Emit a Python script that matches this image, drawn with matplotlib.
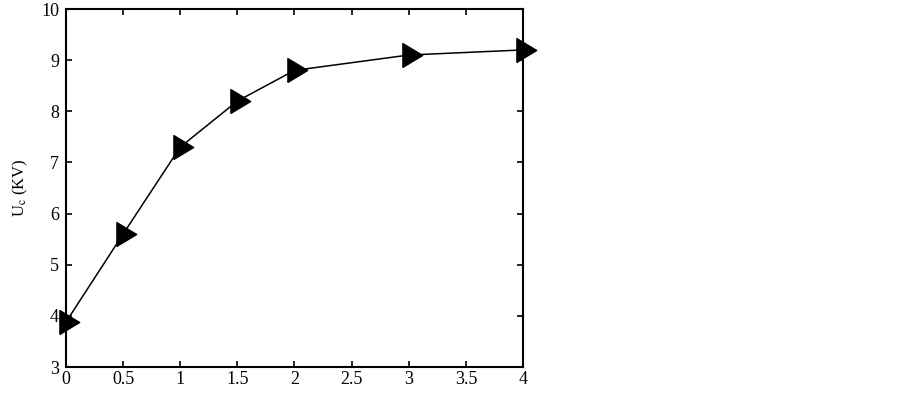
import matplotlib
matplotlib.use("Agg")
import matplotlib.pyplot as plt

x = [0, 0.5, 1, 1.5, 2, 3, 4]
uc = [3.88, 5.6, 7.3, 8.2, 8.8, 9.1, 9.2]
xticks = [0, 0.5, 1, 1.5, 2, 2.5, 3, 3.5, 4]
xticklabels = ["0", "0.5", "1", "1.5", "2", "2.5", "3", "3.5", "4"]
yticks = [3, 4, 5, 6, 7, 8, 9, 10]

plt.rcParams['font.family'] = ['Liberation Serif', 'DejaVu Serif']
plt.rcParams['mathtext.fontset'] = 'stix'

fig = plt.figure(figsize=(9.02, 3.93), dpi=100)
ax = fig.add_axes([66/902, 26/393, (523-66)/902, (367-9)/393])

# right-pointing triangle centred on its centroid
tri = [(-0.553, -1.0), (1.107, 0.0), (-0.553, 1.0), (-0.553, -1.0)]
ax.plot(x, uc, color='black', linewidth=1.1, marker=tri, markersize=19,
        markerfacecolor='black', markeredgecolor='black', clip_on=False,
        zorder=2)

ax.set_xlim(0, 4)
ax.set_ylim(3, 10)
ax.set_xticks(xticks)
ax.set_xticklabels(xticklabels)
ax.set_yticks(yticks)
ax.tick_params(direction='in', top=True, right=True, length=4, width=1.2,
               labelsize=13)
ax.tick_params(axis='y', pad=5)
ax.tick_params(axis='x', pad=3)
for s in ax.spines.values():
    s.set_linewidth(1.5)
ax.set_ylabel(r"U$_\mathrm{c}$ (KV)", fontsize=12, labelpad=8)

fig.savefig("out.png", dpi=100)
